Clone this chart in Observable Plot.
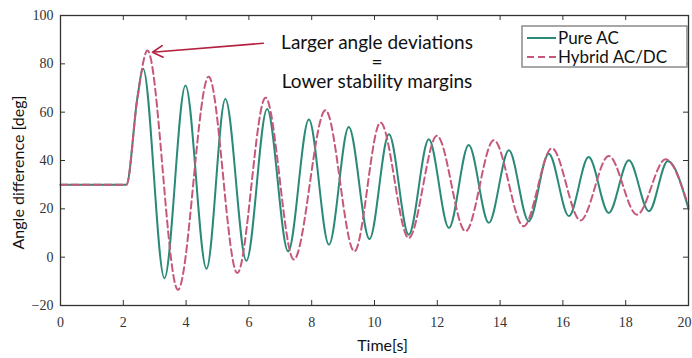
<!DOCTYPE html>
<html><head><meta charset="utf-8">
<script src="https://cdn.jsdelivr.net/npm/d3@7"></script>
<script src="https://cdn.jsdelivr.net/npm/@observablehq/plot@0.6"></script>
<style>body{margin:0;background:#fff} #chart{width:692px;height:358px}</style>
</head><body><div id="chart"></div>
<script>
// ---- data ----
const seriesNames = ["Pure AC", "Hybrid AC/DC"];
const pureT = [0, 2.1, 2.45, 2.63, 3.31, 3.98, 4.65, 5.25, 5.92, 6.58, 7.25, 7.91, 8.55, 9.18, 9.84, 10.46, 11.09, 11.73, 12.37, 13.0, 13.64, 14.28, 14.91, 15.55, 16.19, 16.82, 17.46, 18.1, 18.74, 19.34, 20];
const pureV = [30, 30, 66, 78, -8.7, 71, -4.8, 65.4, -1.5, 61.3, 2.4, 57, 5.2, 53.9, 7.5, 50.9, 9.3, 48.8, 12.1, 46.4, 14.2, 44.2, 14.9, 42.8, 17, 41.4, 18.3, 40.1, 19, 39.8, 20];
const hybridT = [0, 2.1, 2.45, 2.77, 3.74, 4.72, 5.63, 6.53, 7.43, 8.44, 9.36, 10.19, 11.09, 11.99, 12.9, 13.8, 14.75, 15.65, 16.56, 17.46, 18.36, 19.27, 20];
const hybridV = [30, 30, 66, 85.5, -13.5, 74.7, -6.6, 66, -1, 60.8, 2.4, 55.7, 7.9, 50.2, 10.7, 48.4, 12.8, 45.1, 15.2, 41.9, 17.6, 40.5, 21];
const xTicks = [0, 2, 4, 6, 8, 10, 12, 14, 16, 18, 20];
const yTicks = [-20, 0, 20, 40, 60, 80, 100];
const annotText = "Larger angle deviations\n=\nLower stability margins";
const annotPos = [10.08, 80.65];
const arrowFrom = [6.46, 88.5];
const arrowTo = [2.93, 84.8];
const xLabel = "Time[s]";
const yLabel = "Angle difference [deg]";

// ---- styling ----
const teal = "#2b8a77", pink = "#c6587a", red = "#b52040";
const W = 692, H = 358, mL = 60, mR = 4, mT = 15, mB = 53;
const innerW = W - mL - mR, innerH = H - mT - mB, tk = 5;

const pure = pureT.map((t, i) => ({t, v: pureV[i]}));
const hybrid = hybridT.map((t, i) => ({t, v: hybridV[i]}));
const xMax = xTicks[xTicks.length - 1];

const plot = Plot.plot({
  width: W, height: H,
  marginLeft: mL, marginRight: mR, marginTop: mT, marginBottom: mB,
  style: {fontFamily: "Liberation Serif", fontSize: "14px", color: "#333", background: "#fff", overflow: "visible"},
  x: {domain: [0, 20]},
  y: {domain: [-20, 100]},
  marks: [
    Plot.axisX(xTicks.filter(d => d !== xMax), {tickSize: 0, tickPadding: 12, label: null, fontSize: 14, fill: "#333"}),
    Plot.axisX([xMax], {tickSize: 0, tickPadding: 12, label: null, fontSize: 14, fill: "#333", textAnchor: "end", dx: 3}),
    Plot.axisY(yTicks, {tickSize: 0, tickPadding: 7, label: null, fontSize: 14, fill: "#333"}),
    Plot.tickX(xTicks, {insetTop: innerH - tk, stroke: "#333"}),
    Plot.tickX(xTicks, {insetBottom: innerH - tk, stroke: "#333"}),
    Plot.tickY(yTicks, {insetRight: innerW - tk, stroke: "#333"}),
    Plot.tickY(yTicks, {insetLeft: innerW - tk, stroke: "#333"}),
    Plot.line(pure, {x: "t", y: "v", curve: "monotone-x", stroke: teal, strokeWidth: 2}),
    Plot.line(hybrid, {x: "t", y: "v", curve: "monotone-x", stroke: pink, strokeWidth: 2, strokeDasharray: "7,4"}),
    Plot.arrow([0], {x1: () => arrowFrom[0], y1: () => arrowFrom[1], x2: () => arrowTo[0], y2: () => arrowTo[1], bend: 0, stroke: red, strokeWidth: 1.6, headLength: 11}),
    Plot.text([annotText], {x: () => annotPos[0], y: () => annotPos[1], text: d => d, fontFamily: "Lato", fontSize: 19, lineHeight: 1.04, fill: "#111", lineAnchor: "middle", textAnchor: "middle"}),
    Plot.frame({stroke: "#333", strokeWidth: 1.3}),
    Plot.text([yLabel], {frameAnchor: "left", textAnchor: "middle", lineAnchor: "middle", rotate: -90, dx: -42, dy: 12, fontFamily: "Lato", fontSize: 16, fill: "#111"}),
    Plot.text([xLabel], {frameAnchor: "bottom", textAnchor: "middle", lineAnchor: "middle", dx: 8, dy: 40, fontFamily: "Lato", fontSize: 16, fill: "#111"})
  ]
});

// legend box
const svg = d3.select(plot);
const lg = svg.append("g").attr("transform", "translate(522,26)");
lg.append("rect").attr("width", 165).attr("height", 41).attr("fill", "#fff").attr("stroke", "#8a8a8a").attr("stroke-width", 1.5);
const styles = [{stroke: teal, dash: null}, {stroke: pink, dash: "7,4"}];
seriesNames.forEach((name, i) => {
  const y = 12 + i * 19;
  lg.append("line").attr("x1", 5).attr("x2", 34).attr("y1", y).attr("y2", y)
    .attr("stroke", styles[i].stroke).attr("stroke-width", 2).attr("stroke-dasharray", styles[i].dash);
  lg.append("text").attr("x", 36).attr("y", y).attr("dy", "0.35em").attr("text-anchor", "start")
    .attr("font-family", "Lato").attr("font-size", 17).attr("fill", "#111").text(name);
});

document.getElementById("chart").appendChild(plot);
</script>
</body></html>
